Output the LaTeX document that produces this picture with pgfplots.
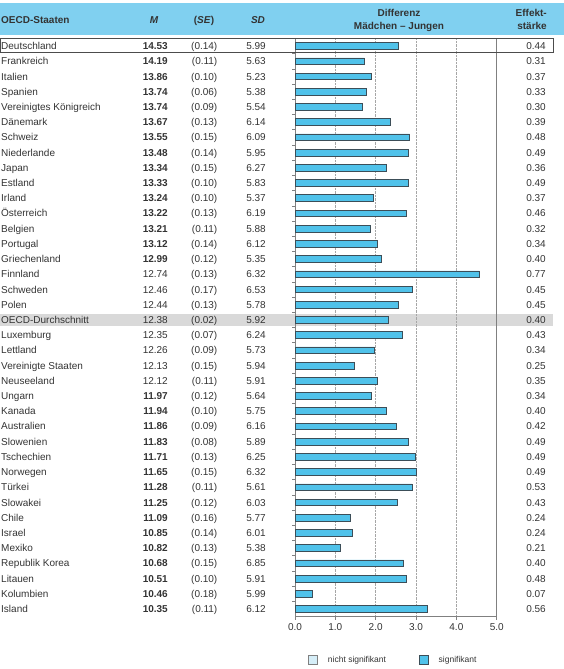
\documentclass[border=0pt]{standalone}
\usepackage{pgfplots}
\pgfplotsset{compat=1.18}
\usepackage{fontspec}
\setmainfont{Liberation Sans}
\definecolor{hdr}{RGB}{128,208,240}
\definecolor{barblue}{RGB}{80,194,234}
\definecolor{bardark}{RGB}{60,78,88}
\definecolor{txt}{RGB}{51,51,51}
\definecolor{lightsig}{RGB}{214,238,248}
\definecolor{axgray}{RGB}{128,128,128}
\definecolor{rowgray}{RGB}{217,217,217}

\begin{document}
\fontsize{10}{12}\selectfont
\begin{tikzpicture}[font=\fontsize{10}{12}\selectfont]
\useasboundingbox (0pt,0pt) rectangle (564pt,669pt);
% header band
\fill[hdr] (0pt,666pt) rectangle (564pt,634pt);
% OECD average row band
\fill[rowgray] (0pt,343pt) rectangle (553pt,355pt);

\begin{axis}[
 at={(295pt,52.3pt)}, anchor=south west, scale only axis,
 width=201.7pt, height=578.7pt,
 xmin=0, xmax=5, ymin=-0.53, ymax=37.51, y dir=reverse,
 xtick={0,1,2,3,4,5}, ytick={0.5,1.5,...,36.5}, yticklabels={},
 xtick pos=left, ytick pos=left,
 tick align=outside, major tick length=3pt,
 xmajorgrids, grid style={densely dotted, gray!70, line width=0.6pt},
 axis line style={axgray, line width=0.8pt},
 tick style={axgray, line width=0.6pt},
 xticklabel style={font=\fontsize{10}{12}\selectfont, text=txt},
 /pgf/number format/.cd, fixed, fixed zerofill, precision=1, assume math mode=true, /pgfplots/.cd,
 legend columns=2,
 legend style={at={(0.483,-0.0748)}, anchor=center, draw=none, fill=none,
   inner sep=0pt, font=\fontsize{8.5}{10}\selectfont, text=txt,
   nodes={inner sep=0pt},
   /tikz/every odd column/.append style={column sep=10pt},
   /tikz/every even column/.append style={column sep=33pt}},
 legend image code/.code={\draw[#1] (0pt,-4.5pt) rectangle (9pt,4.5pt);},
]
\addplot[xbar, bar width=6.7pt, fill=barblue, draw=bardark, line width=0.7pt, forget plot]
coordinates {
(2.55,0) (1.72,1) (1.90,2) (1.76,3) (1.67,4) (2.37,5) (2.84,6) (2.82,7)
(2.26,8) (2.80,9) (1.95,10) (2.76,11) (1.88,12) (2.03,13) (2.13,14) (4.57,15)
(2.90,16) (2.56,17) (2.32,18) (2.65,19) (1.96,20) (1.47,21) (2.03,22) (1.89,23)
(2.27,24) (2.52,25) (2.82,26) (2.99,27) (3.02,28) (2.90,29) (2.54,30) (1.38,31)
(1.41,32) (1.13,33) (2.69,34) (2.75,35) (0.43,36) (3.28,37)
};
\addlegendimage{fill=lightsig, draw=gray, line width=0.6pt}
\addlegendentry{nicht signifikant}
\addlegendimage{fill=barblue, draw=bardark, line width=0.6pt}
\addlegendentry{signifikant}
\end{axis}

% Deutschland box
\draw[black!70, line width=0.9pt] (0.5pt,616.5pt) rectangle (553pt,631pt);

% header texts
\begin{scope}[text=txt, inner sep=0pt]
\node[anchor=base west] at (1pt,645.4pt) {\bfseries OECD-Staaten};
\node[anchor=base] at (154pt,645.4pt) {\bfseries\itshape M};
\node[anchor=base] at (204pt,645.4pt) {\bfseries (\textit{SE})};
\node[anchor=base] at (258pt,645.4pt) {\bfseries\itshape SD};
\node[anchor=base] at (399pt,652.4pt) {\bfseries Differenz};
\node[anchor=base] at (399pt,639.4pt) {\bfseries Mädchen – Jungen};
\node[anchor=base east] at (547pt,652.4pt) {\bfseries Effekt-};
\node[anchor=base east] at (547pt,639.4pt) {\bfseries stärke};

\foreach \n/\m/\s/\d/\e [count=\i from 0] in {
Deutschland/\textbf{14.53}/0.14/5.99/0.44,
Frankreich/\textbf{14.19}/0.11/5.63/0.31,
Italien/\textbf{13.86}/0.10/5.23/0.37,
Spanien/\textbf{13.74}/0.06/5.38/0.33,
Vereinigtes Königreich/\textbf{13.74}/0.09/5.54/0.30,
Dänemark/\textbf{13.67}/0.13/6.14/0.39,
Schweiz/\textbf{13.55}/0.15/6.09/0.48,
Niederlande/\textbf{13.48}/0.14/5.95/0.49,
Japan/\textbf{13.34}/0.15/6.27/0.36,
Estland/\textbf{13.33}/0.10/5.83/0.49,
Irland/\textbf{13.24}/0.10/5.37/0.37,
Österreich/\textbf{13.22}/0.13/6.19/0.46,
Belgien/\textbf{13.21}/0.11/5.88/0.32,
Portugal/\textbf{13.12}/0.14/6.12/0.34,
Griechenland/\textbf{12.99}/0.12/5.35/0.40,
Finnland/12.74/0.13/6.32/0.77,
Schweden/12.46/0.17/6.53/0.45,
Polen/12.44/0.13/5.78/0.45,
OECD-Durchschnitt/12.38/0.02/5.92/0.40,
Luxemburg/12.35/0.07/6.24/0.43,
Lettland/12.26/0.09/5.73/0.34,
Vereinigte Staaten/12.13/0.15/5.94/0.25,
Neuseeland/12.12/0.11/5.91/0.35,
Ungarn/\textbf{11.97}/0.12/5.64/0.34,
Kanada/\textbf{11.94}/0.10/5.75/0.40,
Australien/\textbf{11.86}/0.09/6.16/0.42,
Slowenien/\textbf{11.83}/0.08/5.89/0.49,
Tschechien/\textbf{11.71}/0.13/6.25/0.49,
Norwegen/\textbf{11.65}/0.15/6.32/0.49,
Türkei/\textbf{11.28}/0.11/5.61/0.53,
Slowakei/\textbf{11.25}/0.12/6.03/0.43,
Chile/\textbf{11.09}/0.16/5.77/0.24,
Israel/\textbf{10.85}/0.14/6.01/0.24,
Mexiko/\textbf{10.82}/0.13/5.38/0.21,
Republik Korea/\textbf{10.68}/0.15/6.85/0.40,
Litauen/\textbf{10.51}/0.10/5.91/0.48,
Kolumbien/\textbf{10.46}/0.18/5.99/0.07,
Island/\textbf{10.35}/0.11/6.12/0.56}
{
\pgfmathsetmacro\yy{619.4-15.216*\i}
\node[anchor=base west] at (1pt,\yy pt) {\n};
\node[anchor=base east] at (168pt,\yy pt) {\m};
\node[anchor=base east] at (217.5pt,\yy pt) {(\s)};
\node[anchor=base east] at (266pt,\yy pt) {\d};
\node[anchor=base east] at (546pt,\yy pt) {\e};
}
\end{scope}
\end{tikzpicture}
\end{document}
